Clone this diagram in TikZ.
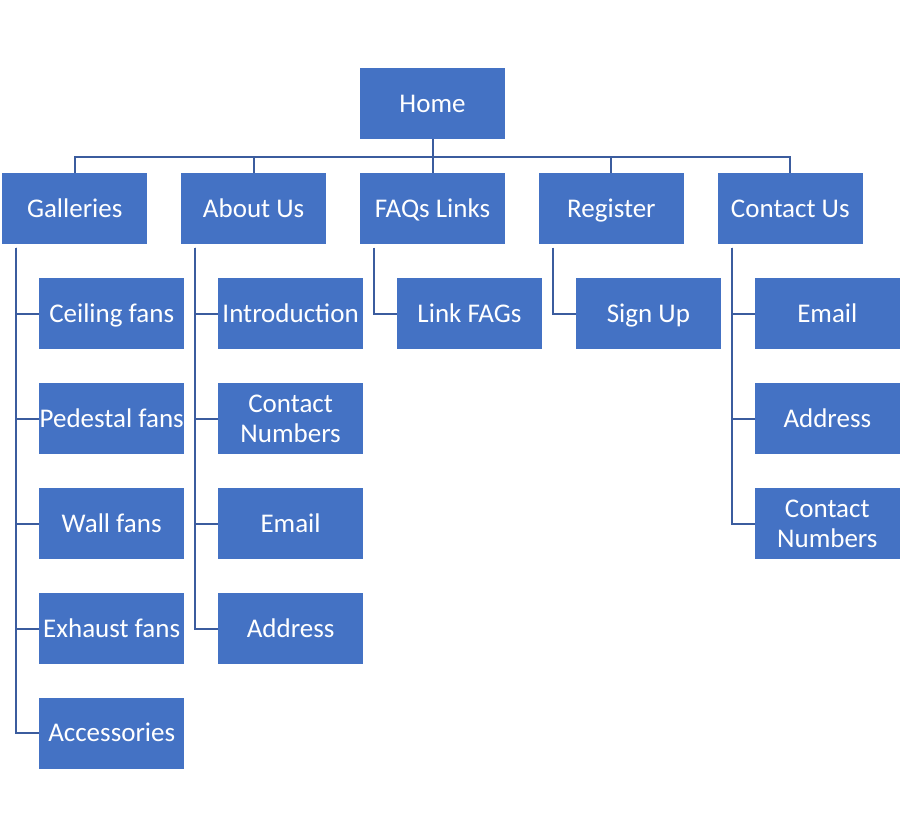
\documentclass[tikz,border=0pt]{standalone}
\usepackage{fontspec}
\setmainfont{Carlito}
\usepackage{xcolor}
\usetikzlibrary{positioning}
\definecolor{boxblue}{RGB}{68,114,196}
\definecolor{lineblue}{RGB}{59,92,158}
\newcommand{\twolines}[2]{\rule{0pt}{26pt}#1\\#2}

\begin{document}
\begin{tikzpicture}[box/.style={rectangle, fill=boxblue, text=white, minimum width=145pt, minimum height=71pt, inner sep=0pt, align=center, font=\fontsize{27}{30}\selectfont, execute at begin node=\rule{0pt}{26pt}, execute at end node=\rule[-9pt]{0pt}{0pt}}, link/.style={draw=lineblue, line width=2pt}]
    \useasboundingbox (0pt,0pt) rectangle (902pt,-838pt);

    %Nodes
    \node[box](home) at (432.5pt,-103.5pt){Home};
    \node[box](faqs)[below=34pt of home]{FAQs Links};
    \node[box](about)[left=33.5pt of faqs]{About Us};
    \node[box](galleries)[left=33.5pt of about]{Galleries};
    \node[box](register)[right=33.5pt of faqs]{Register};
    \node[box](contact)[right=33.5pt of register]{Contact Us};

    \node[box](ceiling)[below=33.5pt of galleries, xshift=37pt]{Ceiling fans};
    \node[box](pedestal)[below=33.5pt of ceiling]{Pedestal fans};
    \node[box](wall)[below=33.5pt of pedestal]{Wall fans};
    \node[box](exhaust)[below=33.5pt of wall]{Exhaust fans};
    \node[box](accessories)[below=33.5pt of exhaust]{Accessories};

    \node[box](intro)[below=33.5pt of about, xshift=37pt]{Introduction};
    \node[box](about_numbers)[below=33.5pt of intro]{\twolines{Contact}{Numbers}};
    \node[box](about_email)[below=33.5pt of about_numbers]{Email};
    \node[box](about_address)[below=33.5pt of about_email]{Address};

    \node[box](link_faqs)[below=33.5pt of faqs, xshift=37pt]{Link FAGs};

    \node[box](sign_up)[below=33.5pt of register, xshift=37pt]{Sign Up};

    \node[box](contact_email)[below=33.5pt of contact, xshift=37pt]{Email};
    \node[box](contact_address)[below=33.5pt of contact_email]{Address};
    \node[box](contact_numbers)[below=33.5pt of contact_address]{\twolines{Contact}{Numbers}};

    %Lines
    \draw[link] (home.south) -- (faqs.north);
    \draw[link] (home.south) -- ++(0,-17.5pt) -| (galleries.north);
    \draw[link] (home.south) -- ++(0,-17.5pt) -| (about.north);
    \draw[link] (home.south) -- ++(0,-17.5pt) -| (register.north);
    \draw[link] (home.south) -- ++(0,-17.5pt) -| (contact.north);

    \foreach \child in {ceiling, pedestal, wall, exhaust, accessories}
        \draw[link] ([xshift=14pt, yshift=-3pt]galleries.south west) |- (\child.west);
    \foreach \child in {intro, about_numbers, about_email, about_address}
        \draw[link] ([xshift=14pt, yshift=-3pt]about.south west) |- (\child.west);
    \draw[link] ([xshift=14pt, yshift=-3pt]faqs.south west) |- (link_faqs.west);
    \draw[link] ([xshift=14pt, yshift=-3pt]register.south west) |- (sign_up.west);
    \foreach \child in {contact_email, contact_address, contact_numbers}
        \draw[link] ([xshift=14pt, yshift=-3pt]contact.south west) |- (\child.west);
\end{tikzpicture}
\end{document}
